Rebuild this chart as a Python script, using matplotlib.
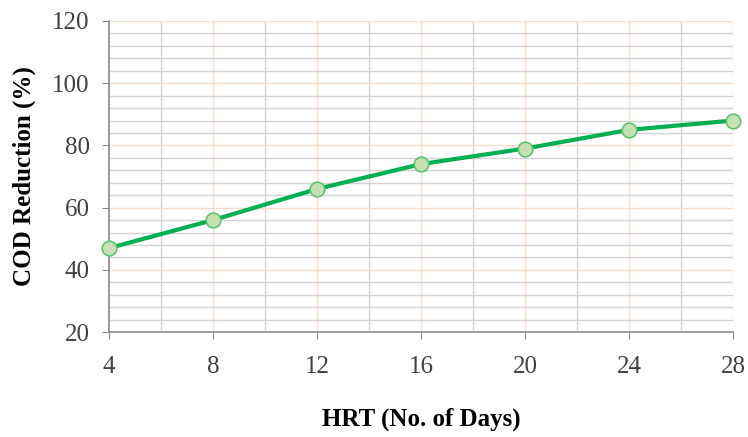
import numpy as np
import matplotlib.pyplot as plt

# 数据
hrt = [4, 8, 12, 16, 20, 24, 28]
cod = [47, 56, 66, 74, 79, 85, 88]
x_ticks = [4, 8, 12, 16, 20, 24, 28]
y_ticks = [20, 40, 60, 80, 100, 120]

plt.rcParams['font.family'] = ['Liberation Serif', 'DejaVu Serif']

fig = plt.figure(figsize=(7.48, 4.37), dpi=100)
ax = fig.add_axes([0.1457, 0.240, 0.8343, 0.712])

ax.plot(hrt, cod, color='#00B050', linewidth=3, marker='o', markersize=10.5,
        markerfacecolor='#C6E0B4', markeredgecolor='#5CC56F', markeredgewidth=1.2,
        zorder=3, clip_on=False)

ax.set_xlim(4, 28)
ax.set_ylim(20, 120)
ax.set_xticks(x_ticks)
ax.set_yticks(y_ticks)
ax.set_xticks(np.arange(4, 29, 2), minor=True)
ax.set_yticks(np.arange(20, 121, 4), minor=True)

ax.grid(which='minor', color='#D3D3D3', linewidth=1.0, zorder=0)
ax.grid(which='major', color='#FBDCCB', linewidth=1.0, zorder=1)
ax.set_axisbelow(True)

for s in ['top', 'right']:
    ax.spines[s].set_visible(False)
for s in ['left', 'bottom']:
    ax.spines[s].set_color('#8C8C8C')
    ax.spines[s].set_linewidth(1.2)

ax.tick_params(which='major', length=5, color='#8C8C8C', labelsize=18,
               labelcolor='#404040')
ax.tick_params(axis='x', which='major', pad=12)
ax.tick_params(axis='y', which='major', pad=9)
ax.tick_params(which='minor', length=0)

ax.set_xlabel('HRT (No. of Days)', fontsize=18, fontweight='bold', va='center')
ax.set_ylabel('COD Reduction (%)', fontsize=18, fontweight='bold', va='center')
ax.xaxis.set_label_coords(0.5, -0.28)
ax.yaxis.set_label_coords(-0.136, 0.5)

fig.savefig('out.png', dpi=100)
